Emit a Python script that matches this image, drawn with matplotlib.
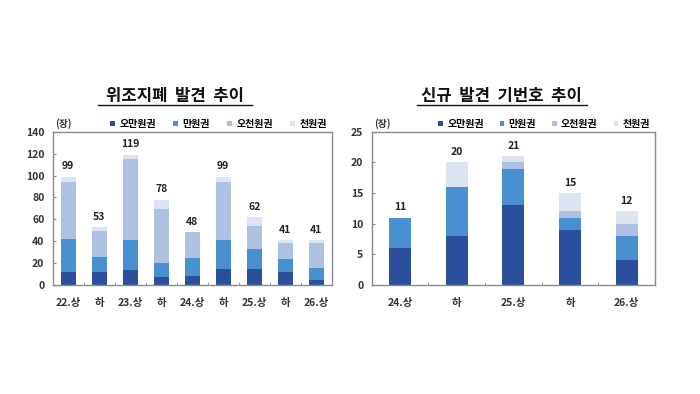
import matplotlib.pyplot as plt
import numpy as np

plt.rcParams['font.family'] = ['Noto Sans CJK KR', 'DejaVu Sans']

series_names = ['오만원권', '만원권', '오천원권', '천원권']
colors = ['#2b4f9c', '#4a90d0', '#aec1e2', '#dde4f1']

# 위조지폐 발견 추이
cat1 = ['22.상', '하', '23.상', '하', '24.상', '하', '25.상', '하', '26.상']
won50k_1 = [12, 12, 14, 7, 8, 15, 15, 12, 5]
won10k_1 = [30, 14, 27, 13, 17, 26, 18, 12, 11]
won5k_1 = [52, 23, 74, 49, 23, 53, 21, 14, 22]
won1k_1 = [5, 4, 4, 9, 0, 5, 8, 3, 3]
total_1 = [99, 53, 119, 78, 48, 99, 62, 41, 41]

# 신규 발견 기번호 추이
cat2 = ['24.상', '하', '25.상', '하', '26.상']
won50k_2 = [6, 8, 13, 9, 4]
won10k_2 = [5, 8, 6, 2, 4]
won5k_2 = [0, 0, 1, 1, 2]
won1k_2 = [0, 4, 1, 3, 2]
total_2 = [11, 20, 21, 15, 12]

fig = plt.figure(figsize=(7, 3.94), dpi=100)
ax1 = fig.add_axes([0.0753, 0.2766, 0.3986, 0.389])
ax2 = fig.add_axes([0.531, 0.2766, 0.4047, 0.389])


def draw(ax, cats, stacks, totals, width, ymax, ystep, title, title_x, line_x, colsp):
    x = np.arange(len(cats))
    bottom = np.zeros(len(cats))
    handles = []
    for vals, c, name in zip(stacks, colors, series_names):
        h = ax.bar(x, vals, width, bottom=bottom, color=c, label=name, linewidth=0)
        handles.append(h)
        bottom += np.array(vals)
    off = ymax * 0.035
    for xi, t in zip(x, totals):
        ax.text(xi, t + off, str(t), ha='center', va='bottom', fontsize=7.5,
                fontweight='bold', color='#222222')
    ax.set_xlim(-0.5, len(cats) - 0.5)
    ax.set_ylim(0, ymax)
    ax.set_yticks(np.arange(0, ymax + 1, ystep))
    ax.set_xticks(x)
    ax.set_xticklabels(cats)
    ax.set_xticks(np.arange(0.5, len(cats) - 0.5, 1), minor=True)
    ax.tick_params(axis='x', which='major', length=0, pad=9, labelsize=7.5,
                   labelcolor='#333333')
    ax.tick_params(axis='x', which='minor', length=2.5, direction='in', color='#888888')
    ax.tick_params(axis='y', length=2.5, direction='in', color='#888888',
                   labelsize=7.5, labelcolor='#333333', pad=6)
    for lbl in ax.get_xticklabels() + ax.get_yticklabels():
        lbl.set_fontweight('bold')
    for s in ax.spines.values():
        s.set_color('#8a8a8a')
        s.set_linewidth(1.0)
    ax.legend(handles=handles, ncol=4, loc='lower right', bbox_to_anchor=(1.0, 0.985),
              frameon=False, handlelength=0.45, handleheight=0.45,
              handletextpad=0.45, columnspacing=colsp, borderaxespad=0.1,
              prop={'weight': 'bold', 'size': 7.2})
    ax.text(0.01, 1.02, '(장)', transform=ax.transAxes, fontsize=7,
            fontweight='bold', color='#333333', ha='left', va='bottom')
    fig.text(title_x, 0.757, title, ha='center', va='center', fontsize=12,
             fontweight='bold', color='#111111')
    fig.add_artist(plt.Line2D(line_x, [0.733, 0.733], color='#111111', lw=1.0))


draw(ax1, cat1, [won50k_1, won10k_1, won5k_1, won1k_1], total_1, 0.48, 140, 20,
     '위조지폐  발견  추이', 0.25, [0.140, 0.360], 1.75)
draw(ax2, cat2, [won50k_2, won10k_2, won5k_2, won1k_2], total_2, 0.39, 25, 5,
     '신규  발견  기번호  추이', 0.717, [0.596, 0.839], 1.6)

fig.savefig('out.png', dpi=100, facecolor='white')
